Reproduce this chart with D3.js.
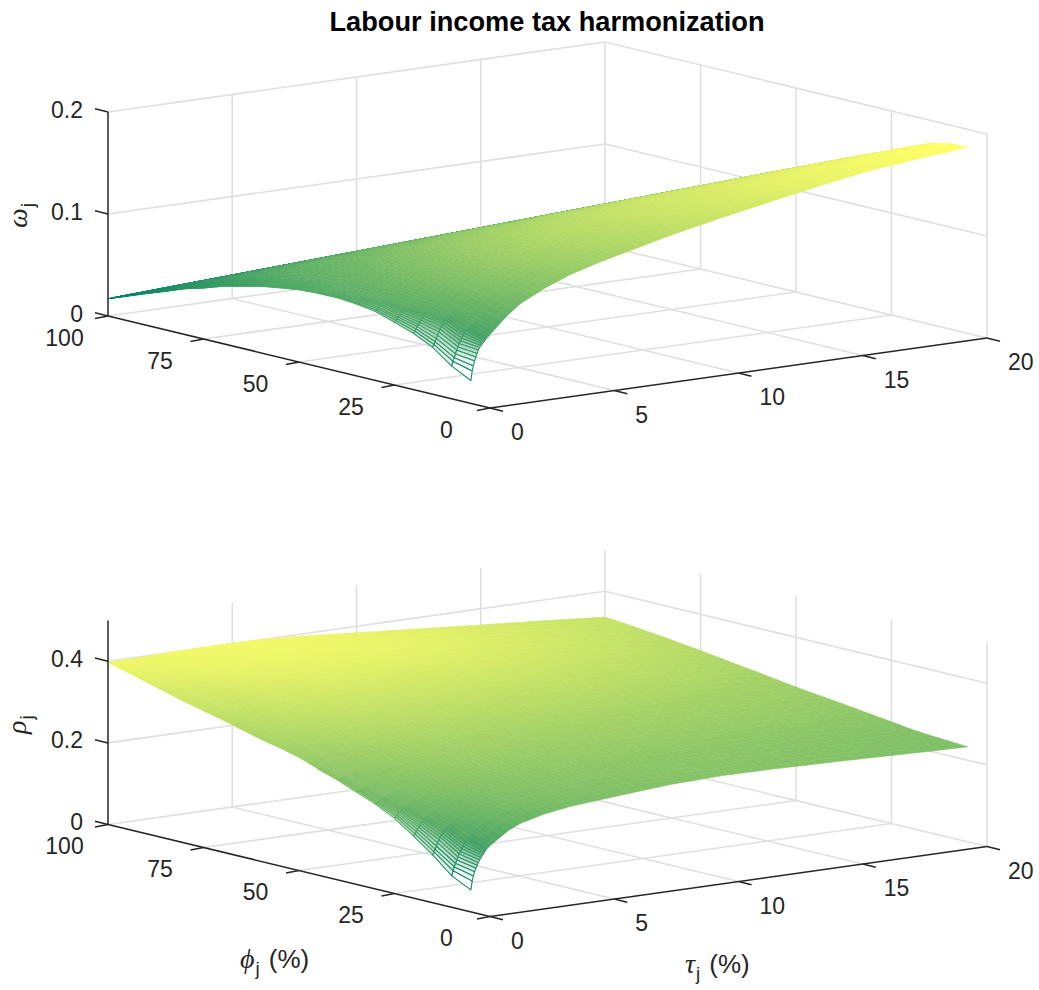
<!DOCTYPE html>
<html><head><meta charset="utf-8">
<script src="https://cdn.jsdelivr.net/npm/d3@7"></script>
<style>html,body{margin:0;padding:0;background:#fff}svg{display:block}</style>
</head><body><div id="chart"></div>
<script>
const titleText = "Labour income tax harmonization";
const tauValues = [0,.05,.1,.15,.2,.25,.3,.35,.4,.45,.5,.55,.6,.7,.8,1,1.5,2,3,4,5,6,8,10,12,14,16,18,20];
const phiValues = [5,10,15,20,25,30,35,40,45,50,55,60,65,70,75,80,85,90,95,100];
const tauTicks = [0,5,10,15,20];
const phiTicks = [0,25,50,75,100];
const omegaTicks = [0,.1,.2];
const rhoTicks = [0,.2,.4];
// each row: one phi value, each column: one tau value
const omegaValues = [
[.0225,.0316,.0363,.0411,.0448,.048,.0514,.0535,.0554,.0567,.058,.0593,.0606,.0627,.0656,.0703,.0818,.091,.103,.1125,.1195,.1255,.137,.147,.156,.165,.173,.178,.1825],
[.032,.0365,.04,.0435,.047,.05,.053,.0555,.058,.0605,.0625,.0645,.066,.069,.0715,.0765,.0865,.0955,.108,.117,.124,.13,.141,.151,.16,.168,.175,.179,.182],
[.046,.0485,.051,.054,.057,.06,.0625,.065,.067,.069,.071,.0725,.074,.076,.0785,.082,.091,.0995,.111,.12,.127,.133,.144,.153,.16,.166,.171,.175,.1774],
[.055,.057,.059,.061,.063,.065,.067,.069,.071,.0725,.074,.0755,.077,.0795,.082,.086,.094,.102,.113,.122,.129,.135,.1445,.152,.157,.161,.165,.1675,.1695],
[.0615,.063,.0645,.066,.0675,.069,.0705,.072,.0735,.075,.076,.0775,.079,.081,.0835,.087,.0945,.1015,.1115,.12,.127,.1325,.141,.148,.152,.155,.1575,.1595,.161],
[.0676,.0685,.07,.071,.0725,.0735,.075,.076,.077,.078,.079,.08,.081,.083,.0855,.0885,.095,.101,.11,.118,.1245,.129,.1365,.142,.144,.1465,.149,.1515,.154],
[.0704,.071,.072,.073,.074,.075,.0755,.0765,.0775,.078,.079,.08,.0805,.082,.084,.0865,.0925,.098,.1065,.114,.12,.1245,.131,.1335,.136,.1385,.141,.1435,.146],
[.072,.0725,.073,.074,.0745,.075,.0755,.076,.077,.0775,.078,.079,.0795,.081,.082,.085,.09,.095,.103,.11,.115,.119,.1225,.1255,.128,.1305,.133,.1355,.138],
[.0717,.072,.0725,.073,.0735,.074,.0745,.075,.0755,.076,.0765,.077,.078,.079,.08,.0825,.087,.0915,.099,.105,.11,.112,.115,.1175,.12,.1225,.125,.1275,.13],
[.0706,.071,.0715,.072,.072,.0725,.073,.0735,.074,.0745,.075,.0755,.076,.0775,.079,.081,.085,.089,.0945,.0985,.102,.1045,.107,.1095,.112,.1145,.117,.1195,.122],
[.068,.0685,.069,.069,.0695,.07,.0705,.071,.0715,.072,.0725,.073,.0735,.075,.0765,.0785,.082,.0855,.09,.093,.095,.0965,.099,.1015,.104,.1065,.109,.1115,.114],
[.065,.0655,.066,.066,.0665,.067,.0675,.068,.0685,.069,.0695,.07,.0705,.072,.073,.075,.0785,.081,.084,.086,.0875,.0885,.091,.0935,.096,.0985,.101,.103,.1055],
[.0605,.061,.0615,.0615,.062,.0625,.063,.063,.0635,.064,.0645,.065,.0655,.0665,.0675,.0695,.0725,.0745,.0765,.078,.0795,.0805,.083,.0855,.088,.09,.0925,.095,.0975],
[.056,.0565,.057,.057,.0575,.058,.0585,.059,.0595,.06,.06,.0605,.061,.062,.063,.0645,.066,.0675,.069,.07,.0715,.0725,.075,.0775,.08,.082,.0845,.087,.0895],
[.05,.05,.0505,.051,.051,.0515,.052,.052,.0525,.053,.053,.0535,.054,.055,.056,.057,.0585,.0595,.0605,.062,.063,.0645,.067,.0695,.0715,.074,.0765,.079,.0815],
[.0445,.045,.045,.0455,.0455,.046,.046,.0465,.047,.047,.0475,.048,.048,.049,.0495,.05,.051,.0515,.0525,.054,.055,.0565,.059,.061,.0635,.066,.0685,.071,.0735],
[.0375,.038,.038,.0385,.0385,.039,.039,.0395,.04,.04,.0405,.041,.041,.0415,.042,.0423,.043,.0435,.0445,.0458,.047,.0483,.0507,.0531,.0555,.058,.0604,.0628,.0652],
[.031,.031,.0315,.0315,.032,.032,.0325,.0325,.033,.033,.0333,.0335,.0337,.034,.0342,.0343,.035,.0355,.0367,.0379,.0391,.0404,.0428,.0452,.0476,.05,.0525,.0549,.0573],
[.024,.024,.0243,.0245,.0247,.025,.025,.0252,.0253,.0254,.0255,.0256,.0257,.0259,.026,.0262,.0269,.0275,.0287,.0299,.0311,.0323,.0347,.0371,.0395,.0419,.0444,.0468,.0492],
[.017,.017,.0171,.0172,.0172,.0173,.0174,.0174,.0175,.0175,.0176,.0177,.0177,.0178,.018,.0182,.0188,.0194,.0206,.0218,.023,.0243,.0267,.0291,.0315,.0339,.0364,.0388,.0412]
];
const rhoValues = [
[.054,.075,.087,.097,.105,.112,.118,.124,.129,.134,.138,.142,.146,.152,.157,.165,.186,.2,.215,.224,.229,.234,.243,.247,.246,.243,.24,.236,.233],
[.077,.089,.098,.106,.114,.121,.128,.134,.14,.145,.15,.155,.16,.169,.177,.188,.205,.216,.229,.236,.24,.243,.248,.25,.249,.247,.244,.24,.236],
[.117,.124,.13,.137,.145,.152,.158,.163,.168,.172,.176,.18,.184,.19,.194,.2,.214,.224,.236,.243,.247,.25,.253,.254,.253,.251,.247,.243,.239],
[.152,.157,.162,.167,.172,.176,.18,.184,.187,.19,.193,.196,.199,.204,.208,.214,.226,.235,.245,.251,.254,.256,.258,.258,.257,.255,.251,.247,.243],
[.184,.188,.191,.194,.197,.2,.202,.205,.207,.209,.211,.213,.215,.218,.221,.226,.236,.243,.252,.257,.26,.262,.264,.264,.262,.26,.257,.253,.2495],
[.208,.21,.212,.214,.216,.218,.22,.222,.224,.226,.227,.229,.23,.233,.235,.239,.247,.253,.261,.266,.269,.271,.272,.272,.27,.268,.265,.261,.2555],
[.226,.228,.229,.23,.232,.233,.235,.236,.237,.239,.24,.241,.242,.244,.246,.25,.257,.262,.27,.275,.278,.28,.281,.28,.278,.276,.273,.268,.2615],
[.245,.246,.247,.248,.249,.25,.251,.252,.253,.254,.255,.256,.257,.259,.261,.264,.27,.275,.281,.285,.288,.289,.29,.289,.287,.284,.28,.274,.267],
[.26,.261,.262,.263,.263,.264,.265,.266,.266,.267,.268,.269,.27,.271,.273,.276,.281,.285,.291,.295,.298,.299,.299,.298,.295,.29,.285,.28,.2725],
[.277,.278,.278,.279,.28,.28,.281,.281,.282,.283,.283,.284,.285,.286,.288,.29,.295,.299,.304,.308,.31,.311,.311,.31,.306,.301,.296,.286,.278],
[.289,.29,.29,.291,.292,.292,.293,.293,.294,.294,.295,.296,.296,.298,.299,.302,.306,.31,.316,.32,.323,.324,.324,.322,.318,.312,.305,.296,.285],
[.299,.3,.3,.301,.302,.302,.303,.303,.304,.304,.305,.306,.306,.308,.31,.312,.318,.322,.329,.333,.336,.337,.336,.334,.329,.323,.315,.305,.292],
[.311,.312,.312,.313,.313,.314,.314,.315,.315,.316,.316,.317,.317,.319,.32,.323,.329,.334,.341,.346,.348,.349,.348,.345,.339,.331,.322,.311,.298],
[.324,.324,.325,.325,.326,.326,.327,.327,.328,.328,.329,.329,.33,.331,.333,.336,.342,.347,.354,.359,.361,.361,.36,.356,.35,.341,.331,.32,.305],
[.335,.335,.336,.336,.337,.337,.338,.338,.339,.339,.34,.34,.341,.342,.344,.347,.353,.358,.365,.37,.372,.372,.372,.368,.361,.351,.34,.326,.311],
[.346,.346,.347,.347,.348,.348,.349,.349,.35,.35,.351,.351,.352,.353,.355,.358,.364,.369,.376,.38,.382,.382,.382,.377,.369,.358,.346,.332,.317],
[.359,.359,.36,.36,.361,.361,.361,.362,.362,.362,.363,.363,.364,.365,.366,.369,.375,.379,.385,.389,.391,.391,.39,.383,.374,.363,.351,.337,.323],
[.372,.372,.372,.373,.373,.373,.374,.374,.374,.375,.375,.375,.376,.377,.378,.38,.385,.389,.394,.397,.398,.398,.393,.386,.376,.366,.354,.341,.328],
[.385,.385,.385,.385,.385,.386,.386,.386,.386,.386,.387,.387,.387,.388,.388,.39,.393,.396,.4,.402,.402,.401,.395,.387,.378,.368,.357,.344,.333],
[.397,.397,.397,.397,.397,.397,.397,.397,.398,.398,.398,.398,.398,.398,.398,.398,.399,.4,.401,.402,.402,.401,.394,.384,.375,.365,.356,.347,.337]
];
const omegaColorRange = [.017, .1825];
const rhoColorRange = [.054, .42];

const W = 1039, H = 990;
const INK = "#262626", GRID = "#dfdfdf", SANS = "'Liberation Sans',Arial,sans-serif", SERIF = "'Liberation Serif',serif";
const svg = d3.select("#chart").append("svg").attr("width", W).attr("height", H).style("font-family", SANS);

svg.append("text").attr("x", 547).attr("y", 31).attr("text-anchor", "middle")
  .attr("font-size", 27.2).attr("font-weight", "bold").attr("fill", "#000").text(titleText);

const tauX = d3.scaleLinear().domain([0, 20]).range([0, 497]);
const tauY = d3.scaleLinear().domain([0, 20]).range([0, -70]);
const phiX = d3.scaleLinear().domain([0, 100]).range([0, -382]);
const phiY = d3.scaleLinear().domain([0, 100]).range([0, -92]);
const summer = d3.interpolateRgb("#008066", "#ffff66");
const tauMax = 20, phiMax = 100;
const meshTauBelow = 0.8, meshPhiBelow = 45;   // this corner is a wire mesh that closes up as it gets denser

function drawPanel(cfg) {
  const g = svg.append("g").attr("transform", `translate(490,${cfg.originY})`);
  const zS = d3.scaleLinear().domain([0, cfg.zMax]).range([0, -204]);
  const P = (tau, phi, z) => [tauX(tau) + phiX(phi), tauY(tau) + phiY(phi) + zS(z)];
  const line = (a, b) => g.append("line").attr("x1", a[0]).attr("y1", a[1]).attr("x2", b[0]).attr("y2", b[1]);
  const gridLine = (a, b) => line(a, b).attr("stroke", GRID).attr("stroke-width", 1.6);

  // floor and walls
  tauTicks.forEach(t => {
    if (t > 0) gridLine(P(t, 0, 0), P(t, phiMax, 0));
    if (t > 0) gridLine(P(t, phiMax, 0), P(t, phiMax, cfg.zMax));
  });
  phiTicks.forEach(p => {
    if (p > 0) gridLine(P(0, p, 0), P(tauMax, p, 0));
    if (p < phiMax) gridLine(P(tauMax, p, 0), P(tauMax, p, cfg.zMax));
  });
  cfg.zTicks.forEach(z => {
    if (z > 0) {
      gridLine(P(0, phiMax, z), P(tauMax, phiMax, z));
      gridLine(P(tauMax, phiMax, z), P(tauMax, 0, z));
    }
  });

  // surface, painted from the far corner to the near one
  const vals = cfg.values;
  const t = d3.scaleLinear().domain(cfg.colorRange).range([0, 1]).clamp(true);
  const cells = [];
  for (let i = phiValues.length - 2; i >= 0; i--) {
    for (let j = tauValues.length - 2; j >= 0; j--) {
      const open = tauValues[j] < meshTauBelow && phiValues[i] < meshPhiBelow;
      const step = tauValues[j + 1] - tauValues[j];
      const nT = open ? 1 : (step >= 1 ? cfg.subTau : Math.min(2, cfg.subTau));
      const nP = open ? 1 : cfg.subPhi;
      for (let a = nP - 1; a >= 0; a--) for (let b = nT - 1; b >= 0; b--) {
        const corner = (u, v) => {
          const fu = (a + u) / nP, fv = (b + v) / nT;
          const phi = phiValues[i] + fu * 5;
          const tau = tauValues[j] + fv * step;
          const z = (vals[i][j] * (1 - fu) + vals[i + 1][j] * fu) * (1 - fv) + (vals[i][j + 1] * (1 - fu) + vals[i + 1][j + 1] * fu) * fv;
          return {p: P(tau, phi, z), z};
        };
        const cs = [corner(0, 0), corner(1, 0), corner(1, 1), corner(0, 1)];
        const dense = open ? Math.pow(tauValues[j] / 0.6, 1.2) + (phiValues[i] - 5) / 40 : 1;
        cells.push({pts: cs.map(c => c.p), z: d3.mean(cs, c => c.z), open, dense: Math.min(1, dense)});
      }
    }
  }
  g.append("g").selectAll("path").data(cells).join("path")
    .attr("d", d => "M" + d.pts.join("L") + "Z")
    .attr("fill", d => d3.interpolateRgb("#ffffff", summer(t(d.z)))(d.dense))
    .attr("stroke", d => summer(t(d.z)))
    .attr("stroke-width", d => d.open && d.dense < 1 ? 1.1 : 0.5)
    .attr("stroke-linejoin", "round");

  // axes
  const axisLine = (a, b, w) => line(a, b).attr("stroke", INK).attr("stroke-width", w || 1.5);
  axisLine(P(0, 0, 0), P(tauMax, 0, 0));
  axisLine(P(0, 0, 0), P(0, phiMax, 0));
  axisLine(P(0, phiMax, 0), P(0, phiMax, cfg.zMax));
  const text = (p, s, anchor) => g.append("text").attr("x", p[0]).attr("y", p[1]).attr("text-anchor", anchor)
    .attr("dominant-baseline", "central").attr("font-size", 23).attr("fill", INK).text(s);
  tauTicks.forEach(v => {
    const p = P(v, 0, 0);
    axisLine(p, [p[0] + 13, p[1] + 3.2]);
    text([p[0] + 21, p[1] + 24], String(v), "start");
  });
  phiTicks.forEach(v => {
    const p = P(0, v, 0);
    axisLine(p, [p[0] - 13, p[1] + 2.5]);
    text([p[0] - 43.5, p[1] + 21.5], String(v), "middle");
  });
  cfg.zTicks.forEach(v => {
    const p = P(0, phiMax, v);
    axisLine(p, [p[0] - 13, p[1] - 3.2]);
    text([83 - 490, p[1] - 2.5], String(v), "end");
  });

  // z label (rotated)
  const zl = svg.append("text").attr("transform", `translate(${cfg.zLabelX},${cfg.zLabelY}) rotate(-90)`).attr("fill", INK);
  zl.append("tspan").attr("font-family", SERIF).attr("font-style", "italic").attr("font-size", 28).text(cfg.zLabel);
  zl.append("tspan").attr("dy", 7).attr("font-size", 19).attr("dx", 1).text("j");
}

drawPanel({originY: 408, zMax: 0.2, zTicks: omegaTicks, values: omegaValues, colorRange: omegaColorRange, subTau: 5, subPhi: 3, zLabel: "ω", zLabelX: 27, zLabelY: 228});
drawPanel({originY: 916.5, zMax: 0.5, zTicks: rhoTicks, values: rhoValues, colorRange: rhoColorRange, subTau: 4, subPhi: 2, zLabel: "ρ", zLabelX: 26, zLabelY: 734});

function bottomLabel(x, y, sym, gap) {
  const tl = svg.append("text").attr("x", x).attr("y", y).attr("fill", INK);
  tl.append("tspan").attr("font-family", SERIF).attr("font-style", "italic").attr("font-size", 28).text(sym);
  tl.append("tspan").attr("dy", 7).attr("font-size", 19).attr("dx", 1).text("j");
  tl.append("tspan").attr("dy", -7).attr("dx", gap).attr("font-size", 26).text("(%)");
}
bottomLabel(240, 968, "ϕ", 9);
bottomLabel(685, 973, "τ", 9);
</script>
</body></html>
